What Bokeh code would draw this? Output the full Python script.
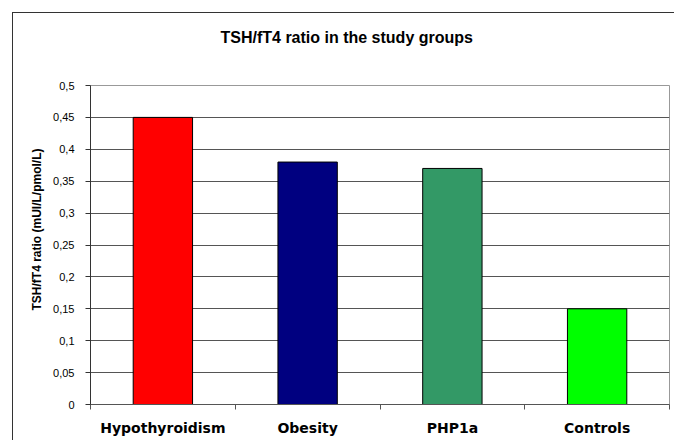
from bokeh.plotting import figure
from bokeh.models import Range1d, FixedTicker, Title, ColumnDataSource
from bokeh.embed import file_html
from bokeh.resources import INLINE

# ---- data ----
categories = ["Hypothyroidism", "Obesity", "PHP1a", "Controls"]
ratios = [0.45, 0.38, 0.37, 0.15]
colors = ["#FF0000", "#000080", "#339966", "#00FF00"]
y_ticks = [0, 0.05, 0.1, 0.15, 0.2, 0.25, 0.3, 0.35, 0.4, 0.45, 0.5]
y_tick_labels = ["0", "0,05", "0,1", "0,15", "0,2", "0,25", "0,3", "0,35", "0,4", "0,45", "0,5"]
title_text = "TSH/fT4 ratio in the study groups"
y_label = "TSH/fT4 ratio (mUI/L/pmol/L)"

n = len(categories)
centers = [i + 0.5 for i in range(n)]
src = ColumnDataSource(dict(x=centers, top=ratios, color=colors, cat=categories))

p = figure(width=662, height=428, output_backend="svg", toolbar_location=None,
           x_range=Range1d(0, n), y_range=Range1d(y_ticks[0], y_ticks[-1]),
           min_border_left=77, min_border_top=72, min_border_right=6, min_border_bottom=37)
p.margin = (12, 0, 0, 12)
p.styles = {"border-left": "1px solid #333333", "border-top": "1px solid #333333",
            "border-right": "none", "border-bottom": "none"}

# spacer (closest to frame) then the chart title above it
p.add_layout(Title(text=" ", standoff=19, text_font="Liberation Sans",
                   text_font_size="12px"), "above")
p.add_layout(Title(text=title_text, align="left", offset=130, standoff=10,
                   text_font="Liberation Sans", text_font_size="16px",
                   text_font_style="bold", text_color="black"), "above")

p.add_layout(Title(text=y_label, align="left", offset=94, standoff=14,
                   text_font="Liberation Sans", text_font_size="12px",
                   text_font_style="bold", text_color="black"), "left")

p.vbar(x="x", top="top", width=0.41, bottom=0, source=src,
       fill_color="color", line_color="black", line_width=1)

# y axis
p.yaxis.ticker = FixedTicker(ticks=y_ticks)
p.yaxis.major_label_overrides = {t: l for t, l in zip(y_ticks, y_tick_labels)}
p.yaxis.major_label_text_font = "Liberation Sans"
p.yaxis.major_label_text_font_size = "11px"
p.yaxis.major_label_text_color = "black"
p.yaxis.axis_line_color = "#333333"
p.yaxis.major_tick_line_color = "#333333"
p.yaxis.major_tick_out = 5
p.yaxis.major_tick_in = 0
p.yaxis.minor_tick_line_color = None
p.yaxis.major_label_standoff = 11

# x axis: labels at centers, ticks at boundaries
p.xaxis.ticker = FixedTicker(ticks=centers, minor_ticks=list(range(n + 1)))
p.xaxis.major_label_overrides = {c: cat for c, cat in zip(centers, categories)}
p.xaxis.major_label_text_font = "DejaVu Sans"
p.xaxis.major_label_text_font_size = "14px"
p.xaxis.major_label_text_font_style = "bold"
p.xaxis.major_label_text_color = "black"
p.xaxis.axis_line_color = "#555555"
p.xaxis.major_tick_line_color = None
p.xaxis.minor_tick_line_color = "#555555"
p.xaxis.minor_tick_out = 5
p.xaxis.minor_tick_in = 0
p.xaxis.major_label_standoff = 9

# grid
p.xgrid.visible = False
p.ygrid.ticker = FixedTicker(ticks=y_ticks[:-1])
p.ygrid.grid_line_color = "#555555"
p.ygrid.grid_line_width = 1

p.outline_line_color = "#999999"
p.background_fill_color = "white"
p.border_fill_color = "white"

open("out.html", "w").write(file_html(p, INLINE))
